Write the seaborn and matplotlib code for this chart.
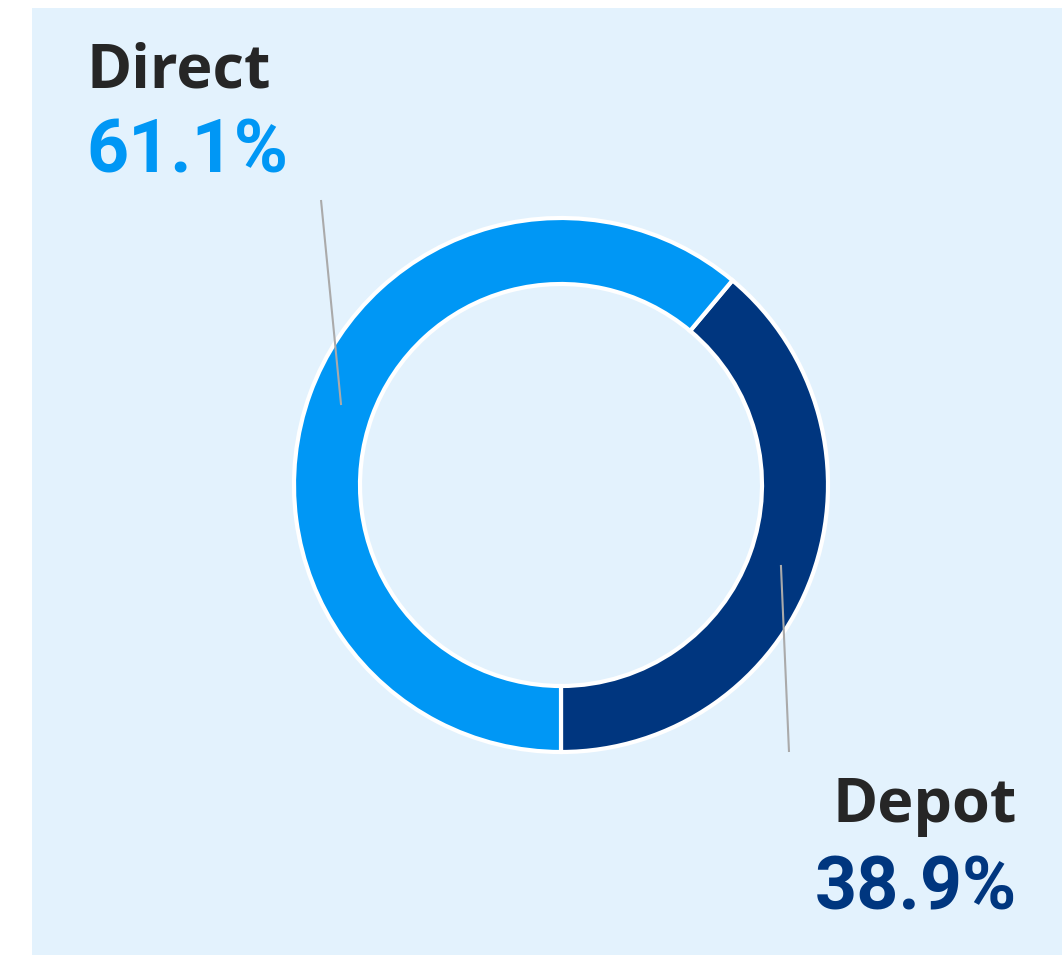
import numpy as np
import matplotlib
matplotlib.use("Agg")
import matplotlib.pyplot as plt
import seaborn as sns
from matplotlib.patches import Rectangle

labels = ["Depot", "Direct"]
shares = [38.9, 61.1]
colors = ["#00367F", "#0097F5"]

sns.set_theme(style="white")
plt.rcParams["font.family"] = ["Open Sans", "DejaVu Sans"]

W, H = 1062, 955
fig = plt.figure(figsize=(W / 100, H / 100), dpi=100)
fig.patch.set_facecolor("white")
ax = fig.add_axes([0, 0, 1, 1])

ax.add_patch(Rectangle((32, 0), W - 32, H - 8, facecolor="#E3F2FD", edgecolor="none", zorder=0))

cx, cy = 561, H - 485
R = 267
width = 66
wedges, _ = ax.pie(shares, colors=colors, startangle=-90, counterclock=True,
                   center=(cx, cy), radius=R, frame=True,
                   wedgeprops=dict(width=width, edgecolor="white", linewidth=3))
for w in wedges:
    w.set_zorder(2)
ax.set_xlim(0, W)
ax.set_ylim(0, H)
ax.set_aspect("equal")
ax.axis("off")

ends = {"Direct": (321, H - 200), "Depot": (789, H - 752)}
rmid = R - width / 2
for w, lab in zip(wedges, labels):
    ang = np.deg2rad((w.theta1 + w.theta2) / 2)
    x0, y0 = cx + rmid * np.cos(ang), cy + rmid * np.sin(ang)
    x1, y1 = ends[lab]
    ax.plot([x0, x1], [y0, y1], color="#AAAAAA", lw=1.5, zorder=3, solid_capstyle="butt")

txt = "#262626"
wfont = ["Open Sans", "DejaVu Sans"]
nfont = ["Roboto", "DejaVu Sans"]
ax.text(86, H - 88, labels[1], color=txt, fontsize=44, fontweight="bold", family=wfont,
        ha="left", va="baseline", zorder=4)
ax.text(86, H - 173, f"{shares[1]:.1f}%", color=colors[1], fontsize=53, fontweight="bold", family=nfont,
        ha="left", va="baseline", zorder=4)
ax.text(1017, H - 822, labels[0], color=txt, fontsize=44, fontweight="bold", family=wfont,
        ha="right", va="baseline", zorder=4)
ax.text(1017, H - 910, f"{shares[0]:.1f}%", color=colors[0], fontsize=53, fontweight="bold", family=nfont,
        ha="right", va="baseline", zorder=4)

fig.savefig("out.png", dpi=100, facecolor="white")
